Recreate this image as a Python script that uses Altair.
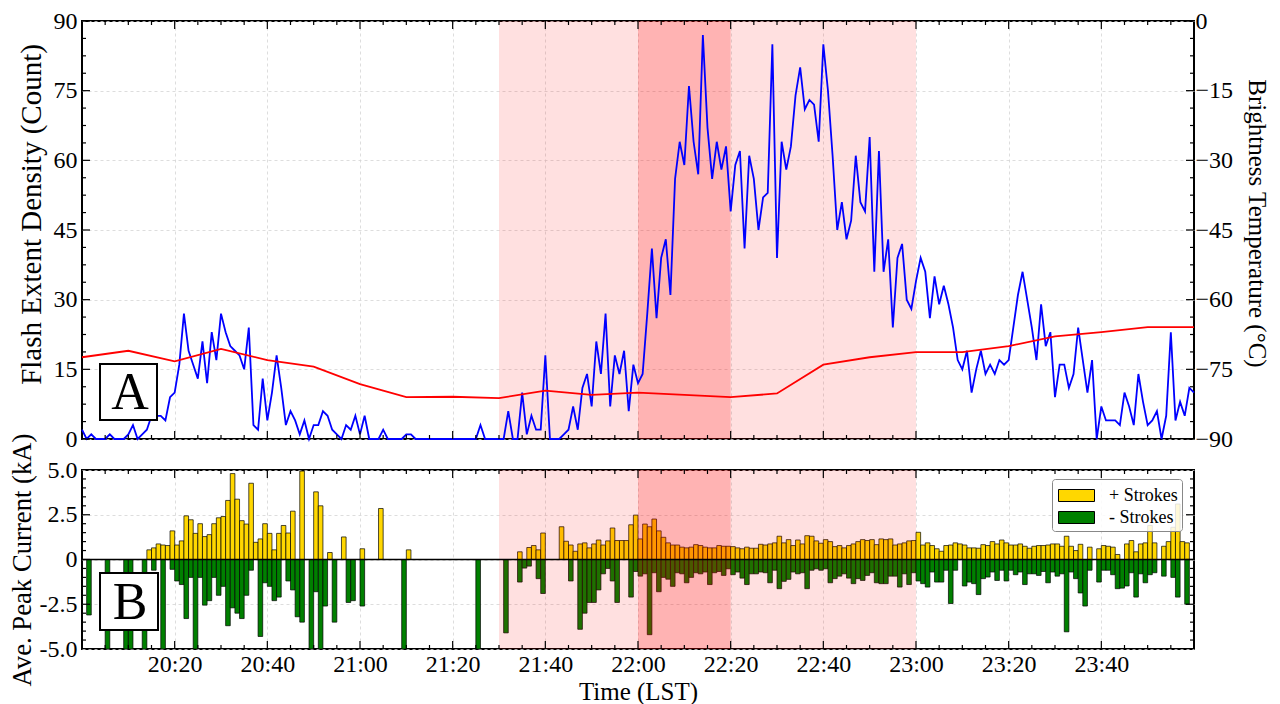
import altair as alt
import pandas as pd

# ---------------- data ----------------
# Flash extent density, one value per minute from 20:00 (minute 0) to 24:00 (minute 240)
fed_counts = [
    2, 0, 1, 0, 0, 0, 1, 0, 0, 0,          # 0-9
    1, 3, 0, 1, 2, 5, 5, 5, 4, 9,          # 10-19
    10, 16, 27, 19, 16, 13, 21, 12, 23, 17,  # 20-29
    27, 23, 20, 19, 18, 15, 24, 3, 2, 13,  # 30-39
    4, 10, 18, 11, 3, 6, 4, 1, 4, 0,       # 40-49
    3, 3, 6, 5, 2, 1, 0, 3, 2, 5,          # 50-59
    1, 5, 0, 0, 0, 2, 0, 0, 0, 0,          # 60-69
    1, 1, 0, 0, 0, 0, 0, 0, 0, 0,          # 70-79
    0, 0, 0, 0, 0, 0, 3, 0, 0, 0,          # 80-89
    0, 0, 6, 0, 0, 10, 1, 5, 2, 2,         # 90-99
    18, 0, 0, 0, 1, 2, 7, 2, 11, 14,       # 100-109
    7, 21, 14, 27, 7, 18, 14, 19, 6, 16,   # 110-119
    12, 14, 27, 41, 26, 39, 43, 31, 56, 64,  # 120-129
    59, 76, 64, 57, 87, 67, 56, 64, 58, 63,  # 130-139
    49, 59, 62, 41, 61, 56, 45, 52, 53, 85,  # 140-149
    39, 64, 58, 63, 74, 80, 71, 73, 72, 64,  # 150-159
    85, 75, 61, 45, 51, 43, 47, 61, 51, 49,  # 160-169
    65, 36, 62, 36, 43, 24, 39, 42, 30, 28,  # 170-179
    34, 39, 36, 26, 35, 29, 33, 29, 24, 17,  # 180-189
    15, 19, 10, 15, 19, 14, 16, 14, 17, 16,  # 190-199
    17, 24, 31, 36, 30, 24, 17, 29, 20, 23,  # 200-209
    9, 16, 16, 11, 14, 24, 17, 10, 17, 0,    # 210-219
    7, 4, 4, 4, 3, 10, 7, 3, 14, 8,          # 220-229
    3, 4, 6, 0, 5, 23, 4, 8, 5, 11,          # 230-239
    10,                                      # 240
]

# Brightness temperature (deg C), every 10 minutes
bt_minutes = [0, 10, 20, 30, 40, 50, 60, 70, 80, 90, 100, 110, 120,
              130, 140, 150, 160, 170, 180, 190, 200, 210, 220, 230, 240]
bt_values = [-72.4, -71.0, -73.3, -70.6, -73.0, -74.4, -78.2, -81.0, -80.9,
             -81.2, -79.6, -80.5, -80.0, -80.5, -81.0, -80.2, -74.0, -72.4,
             -71.3, -71.3, -70.0, -67.9, -67.0, -65.9, -65.9]

# Average peak current (kA) per minute bin, positive and negative strokes
pos_current = [
    0, 0, 0, 0, 0, 0, 0, 0, 0, 0,
    0, 0, 0, 0, 0.54, 0.65, 0.87, 0.81, 0.78, 1.6,
    0.81, 1.04, 2.44, 2.22, 1.46, 2.0, 1.28, 1.39, 2.0, 2.33,
    2.4, 3.3, 4.8, 3.37, 2.17, 1.98, 4.26, 0.96, 1.15, 2.0,
    1.46, 0.54, 1.46, 1.9, 1.48, 2.7, 0, 4.94, 0, 0,
    3.78, 3.0, 0, 0.39, 0, 0, 1.26, 0, 0, 0,
    0.6, 0, 0, 0, 2.85, 0, 0, 0, 0, 0,
    0.54, 0, 0, 0, 0, 0, 0, 0, 0, 0,
    0, 0, 0, 0, 0, 0, 0, 0, 0, 0,
    0, 0, 0, 0, 0.43, 0, 0.67, 0.78, 0.54, 1.48,
    0, 0, 0, 1.83, 1.02, 0.81, 0.46, 0.87, 0.93, 0.65,
    0.87, 1.09, 0.81, 1.04, 1.76, 1.06, 1.06, 1.06, 1.94, 2.48,
    1.15, 1.98, 1.83, 2.26, 1.6, 1.24, 0.93, 0.81, 0.81, 0.69,
    0.65, 0.69, 0.83, 0.78, 0.69, 0.65, 0.65, 0.78, 0.74, 0.74,
    0.72, 0.65, 0.6, 0.69, 0.63, 0.63, 0.85, 0.81, 0.87, 0.93,
    1.3, 0.93, 1.11, 0.78, 1.09, 0.87, 1.33, 1.3, 1.04, 0.91,
    1.11, 1.0, 0.72, 0.78, 0.65, 0.78, 0.87, 1.0, 1.11, 1.06,
    1.11, 0.83, 1.15, 1.11, 1.15, 0.81, 0.87, 0.93, 1.04, 1.06,
    1.52, 0.81, 0.93, 0.78, 0.6, 0.46, 0.78, 0.81, 0.93, 0.87,
    0.81, 0.65, 0.65, 0.63, 0.83, 0.78, 1.0, 0.87, 1.09, 0.93,
    0.81, 0.81, 0.87, 0.74, 0.63, 0.74, 0.78, 0.78, 0.81, 0.87,
    0.87, 0.74, 1.3, 0.74, 0.5, 0.85, 0, 0.69, 0, 0.6,
    0.78, 0.74, 0.69, 0.28, 0, 0.87, 1.06, 0.43, 0.87, 0.93,
    1.9, 0.93, 0, 0.74, 1.0, 1.8, 3.1, 1.0, 0.93, 0,
]
neg_current = [
    0, -3.1, 0, 0, 0, -5, 0, 0, 0, -5,
    -5, 0, 0, -5, 0, -0.6, 0, -5, 0, -0.55,
    -1.2, -1.4, -3.3, -1.0, -5, -1.0, -2.55, -2.3, -1.0, -2.0,
    -1.5, -3.7, -2.7, -3.0, -3.3, -2.0, -0.6, 0, -4.3, -1.3,
    -1.5, -2.3, -2.1, 0, -1.2, -1.7, -3.2, -3.5, 0, -5,
    -1.8, -5, -2.6, 0, -3.5, 0, 0, -2.4, -2.3, 0,
    -2.6, 0, 0, 0, 0, 0, 0, 0, 0, -5,
    0, 0, 0, 0, 0, 0, 0, 0, 0, 0,
    0, 0, 0, 0, 0, -5, 0, 0, 0, 0,
    0, -4.1, 0, 0, -1.26, -0.48, -0.37, 0, -1.07, -1.9,
    0, 0, 0, 0, 0, -1.2, 0, -3.9, -3.0, -2.4,
    -2.4, -1.7, -0.8, -0.5, -1.2, -2.4, 0, 0, -2.1, -0.67,
    -0.93, -0.8, -4.2, -0.74, -1.8, -1.0, -1.1, -1.5, -0.74, -0.8,
    -1.3, -1.0, -0.74, -0.8, -0.7, -1.4, -0.74, -0.67, -0.89, -0.52,
    -0.85, -0.7, -1.04, -1.4, -0.8, -0.8, -0.7, -0.74, -1.3, -0.6,
    -1.63, -1.22, -1.11, -0.7, -0.8, -0.74, -1.63, -0.6, -0.52, -0.6,
    -0.52, -1.3, -1.07, -0.93, -0.8, -1.04, -1.35, -1.07, -1.17, -0.89,
    -0.74, -1.3, -1.35, -1.35, -0.93, -0.93, -1.54, -0.8, -1.4, -0.74,
    -1.2, -1.35, -1.54, -0.7, -1.26, -1.26, -0.6, -2.46, -0.6, 0,
    -1.48, -1.26, -1.35, -1.96, -1.07, -0.98, -0.7, -1.17, -0.6, -1.2,
    -0.6, -0.85, -0.7, -1.4, -0.8, -0.8, -0.89, -0.67, -1.3, -0.7,
    -0.93, -0.8, -4.04, -0.7, -1.07, -1.87, -2.6, -0.6, 0, -1.26,
    -0.6, -0.6, -0.85, -1.63, -1.6, -1.48, -0.74, -2.1, -0.8, -1.3,
    -0.85, -0.74, 0, -0.93, 0, -1.0, -2.1, 0, -2.5, 0,
]

# shaded periods (minutes after 20:00): 21:30-23:00 and 22:00-22:20
light_span = [90, 180]
dark_span = [120, 140]

# tick positions
x_major = [20, 40, 60, 80, 100, 120, 140, 160, 180, 200, 220]
x_minor = [m for m in range(5, 240, 5) if m % 20 != 0]
fed_labels = [0, 15, 30, 45, 60, 75, 90]
fed_minor = [3.75 * k for k in range(1, 24) if k % 4 != 0]
bt_labels = [-90, -75, -60, -45, -30, -15, 0]
bt_minor = [-90 + 3.75 * k for k in range(1, 24) if k % 4 != 0]
cur_labels = [-5, -2.5, 0, 2.5, 5]
cur_minor = [-5 + 0.5 * k for k in range(1, 20) if k % 5 != 0]
series_names = ['+ Strokes', '- Strokes']

# ---------------- style ----------------
FONT = 'Liberation Serif'
W, H1, H2 = 1112, 418, 179
MAJ, MIN = 8, 4

fed_df = pd.DataFrame({'minute': list(range(len(fed_counts))), 'fed': fed_counts})
bt_df = pd.DataFrame({'minute': bt_minutes, 'bt': bt_values})
bars_df = pd.concat([
    pd.DataFrame({'minute': list(range(len(pos_current))), 'value': pos_current, 'type': series_names[0]}),
    pd.DataFrame({'minute': list(range(len(neg_current))), 'value': neg_current, 'type': series_names[1]}),
])
bars_df = bars_df[bars_df['value'] != 0].copy()
bars_df['end'] = bars_df['minute'] + 1
bars_df['base'] = 0.0
light_df = pd.DataFrame({'start': [light_span[0]], 'end': [light_span[1]]})
dark_df = pd.DataFrame({'start': [dark_span[0]], 'end': [dark_span[1]]})

xs = alt.Scale(domain=[0, 240], nice=False, zero=False)
fed_s = alt.Scale(domain=[0, 90], nice=False)
bt_s = alt.Scale(domain=[-90, 0], nice=False)
cur_s = alt.Scale(domain=[-5, 5], nice=False)

time_label = ("(20 + floor(datum.value / 60)) + ':' + "
              "(datum.value % 60 < 10 ? '0' : '') + (datum.value % 60)")

# one axis object per channel and panel, reused by every layer so they merge cleanly
top_x_axis = alt.Axis(values=x_major, labels=False, grid=True, title='',
                      maxExtent=0, minExtent=0)
fed_axis = alt.Axis(values=fed_labels, grid=True, title='Flash Extent Density (Count)',
                    titleFontSize=29, titlePadding=7, titleY=193)
bt_axis = alt.Axis(values=bt_labels, orient='right', grid=False,
                   title='Brightness Temperature (°C)', titleFontSize=25,
                   labelPadding=1, titlePadding=11, titleY=202)
bot_x_axis = alt.Axis(values=x_major, labelExpr=time_label, grid=True,
                      title='Time (LST)', titleFontSize=25, titlePadding=3,
                      labelPadding=3)
cur_axis = alt.Axis(values=cur_labels, grid=True, title='Ave. Peak Current (kA)',
                    titleFontSize=26.7, titlePadding=3,
                    labelExpr="datum.value == 0 ? '0' : replace(format(datum.value, '.1f'), '\u2212', '-')")


def x_ticks(height, axis):
    out = []
    for vals, ln in ((x_major, MAJ), (x_minor, MIN)):
        d = pd.DataFrame({'v': vals})
        out.append(alt.Chart(d).mark_rule(color='black', strokeWidth=1.2).encode(
            x=alt.X('v:Q', scale=xs, axis=axis), y=alt.value(0), y2=alt.value(ln)))
        out.append(alt.Chart(d).mark_rule(color='black', strokeWidth=1.2).encode(
            x=alt.X('v:Q', scale=xs, axis=axis), y=alt.value(height - ln), y2=alt.value(height)))
    return out


def y_ticks(major, minor, scale, axis, side):
    out = []
    for vals, ln in ((major, MAJ), (minor, MIN)):
        d = pd.DataFrame({'v': vals})
        if side == 'left':
            xa, xb = 0, ln
        else:
            xa, xb = W - ln, W
        out.append(alt.Chart(d).mark_rule(color='black', strokeWidth=1.2).encode(
            y=alt.Y('v:Q', scale=scale, axis=axis), x=alt.value(xa), x2=alt.value(xb)))
    return out


def span_layer(df, op, height, axis):
    return alt.Chart(df).mark_rect(color='red', opacity=op).encode(
        x=alt.X('start:Q', scale=xs, axis=axis), x2='end:Q',
        y=alt.value(0), y2=alt.value(height))


def letter_box(letter, x0, x1, y0, y1, tx, ty):
    d = pd.DataFrame({'t': [letter]})
    box = alt.Chart(d).mark_rect(fill='white', stroke='black', strokeWidth=2).encode(
        x=alt.value(x0), x2=alt.value(x1), y=alt.value(y0), y2=alt.value(y1))
    txt = alt.Chart(d).mark_text(font=FONT, fontSize=52, align='center', baseline='middle',
                                 color='black').encode(
        text='t:N', x=alt.value(tx), y=alt.value(ty))
    return [box, txt]


# ---------------- top panel ----------------
blue = alt.Chart(fed_df).mark_line(color='#0000ff', strokeWidth=1.8).encode(
    x=alt.X('minute:Q', scale=xs, axis=top_x_axis),
    y=alt.Y('fed:Q', scale=fed_s, axis=fed_axis),
)
left_group = alt.layer(
    span_layer(light_df, 0.12, H1, top_x_axis),
    span_layer(dark_df, 0.2, H1, top_x_axis),
    blue,
    *x_ticks(H1, top_x_axis),
    *y_ticks(fed_labels, fed_minor, fed_s, fed_axis, 'left'),
    *letter_box('A', 18, 75, 343, 399, 48, 372),
)

red = alt.Chart(bt_df).mark_line(color='#ff0000', strokeWidth=1.8).encode(
    x=alt.X('minute:Q', scale=xs, axis=top_x_axis),
    y=alt.Y('bt:Q', scale=bt_s, axis=bt_axis),
)
right_group = alt.layer(red, *y_ticks(bt_labels, bt_minor, bt_s, bt_axis, 'right'))

top = alt.layer(left_group, right_group).resolve_scale(y='independent').properties(
    width=W, height=H1)

# ---------------- bottom panel ----------------
bars = alt.Chart(bars_df).mark_bar(stroke='black', strokeWidth=0.7, opacity=1).encode(
    x=alt.X('minute:Q', scale=xs, axis=bot_x_axis),
    x2='end:Q',
    y=alt.Y('value:Q', scale=cur_s, stack=None, axis=cur_axis),
    y2='base:Q',
    color=alt.Color('type:N',
                    scale=alt.Scale(domain=series_names, range=['#FFD700', '#008000']),
                    legend=alt.Legend(orient='none', legendX=970, legendY=9, title='',
                                      symbolType='M-1.5,-0.5H1.5V0.5H-1.5Z', symbolSize=576,
                                      symbolStrokeColor='black', symbolStrokeWidth=1,
                                      symbolOpacity=1, symbolOffset=8,
                                      labelFont=FONT, labelFontSize=18,
                                      labelColor='black', labelOffset=20, padding=4,
                                      rowPadding=0, fillColor='rgba(255,255,255,0.85)',
                                      strokeColor='#888888', cornerRadius=3)),
)
zero_df = pd.DataFrame({'v': [0]})
zero_line = alt.Chart(zero_df).mark_rule(color='black', strokeWidth=1.5).encode(
    y=alt.Y('v:Q', scale=cur_s, axis=cur_axis))

bottom = alt.layer(
    bars,
    span_layer(light_df, 0.12, H2, bot_x_axis),
    span_layer(dark_df, 0.2, H2, bot_x_axis),
    zero_line,
    *x_ticks(H2, bot_x_axis),
    *y_ticks([-2.5, 0, 2.5], cur_minor, cur_s, cur_axis, 'left'),
    *y_ticks([-2.5, 0, 2.5], cur_minor, cur_s, cur_axis, 'right'),
    *letter_box('B', 18, 76, 103, 160, 48, 133),
).properties(width=W, height=H2)

chart = alt.vconcat(top, bottom, spacing=-20).resolve_legend(color='independent').properties(
    padding={'left': 0, 'top': 0, 'right': 0, 'bottom': 0}
).configure(font=FONT).configure_view(stroke='black', strokeWidth=2).configure_axis(
    labelFont=FONT, titleFont=FONT, labelFontSize=24, labelColor='black',
    titleColor='black', titleFontWeight='normal', ticks=False, tickSize=0,
    domain=False, gridColor='#d4d4d4', gridDash=[3, 3], gridWidth=0.8,
    labelPadding=5, labelFlush=False, labelOverlap=False,
)

chart.save('out.html', embed_options={'renderer': 'svg', 'actions': False})
